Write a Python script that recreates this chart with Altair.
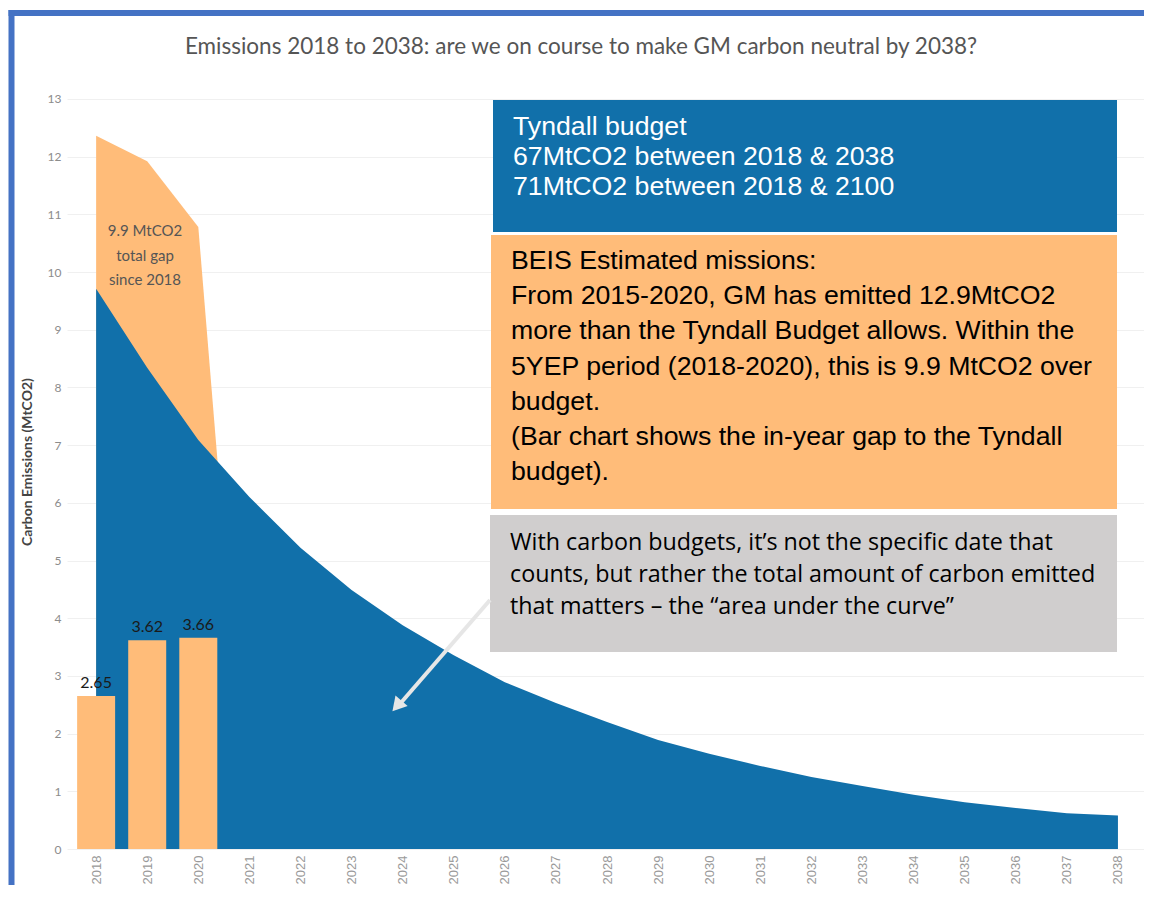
import altair as alt
import pandas as pd

# ---- data ----
years = list(range(2018, 2039))
tyndall = [9.71, 8.34, 7.09, 6.10, 5.22, 4.49, 3.88, 3.36, 2.89, 2.53, 2.20,
           1.89, 1.65, 1.44, 1.25, 1.09, 0.94, 0.81, 0.71, 0.62, 0.58]
beis_years = [2018, 2019, 2020, 2021]
beis = [12.36, 11.92, 10.78, 0.0]
gap_years = [2018, 2019, 2020]
gap = [2.65, 3.62, 3.66]
gap_labels = ["2.65", "3.62", "3.66"]

title_text = "Emissions 2018 to 2038: are we on course to make GM carbon neutral by 2038?"
y_title = "Carbon Emissions (MtCO2)"
gap_note = ["9.9 MtCO2", "total gap", "since 2018"]
blue_note = ["Tyndall budget", "67MtCO2 between 2018 & 2038", "71MtCO2 between 2018 & 2100"]
orange_note = ["BEIS Estimated missions:",
               "From 2015-2020, GM has emitted 12.9MtCO2",
               "more than the Tyndall Budget allows. Within the",
               "5YEP period (2018-2020), this is 9.9 MtCO2 over",
               "budget.",
               "(Bar chart shows the in-year gap to the Tyndall",
               "budget)."]
gray_note = ["With carbon budgets, it\u2019s not the specific date that",
             "counts, but rather the total amount of carbon emitted",
             "that matters \u2013 the \u201carea under the curve\u201d"]

BLUE = "#1170aa"
ORANGE = "#ffbc79"
GRAY_BOX = "#d0cece"
BORDER = "#4472c4"

W, H = 1077, 757

tyn_df = pd.DataFrame({"year": years, "value": tyndall})
beis_df = pd.DataFrame({"year": beis_years, "value": beis})
gap_df = pd.DataFrame({"year": gap_years, "value": gap, "label": gap_labels})
one = pd.DataFrame({"a": [0]})

xscale = alt.Scale(domain=[2017.43, 2038.51], nice=False, zero=False, padding=0)
yscale = alt.Scale(domain=[0, 13.12], nice=False, padding=0)

x_enc = alt.X("year:Q", scale=xscale, title=None,
              axis=alt.Axis(values=years, format="d", labelAngle=270,
                            labelFont="Liberation Sans", labelFontSize=13,
                            labelColor="#9a9a9a", labelPadding=6,
                            ticks=False, domain=False, grid=False))
y_enc = alt.Y("value:Q", scale=yscale, title=None,
              axis=alt.Axis(values=list(range(0, 14)), format="d", labelFont="Lato",
                            labelFontSize=12, labelColor="#8c8c8c",
                            labelPadding=6, ticks=False, domain=False,
                            grid=True, gridColor="#f0f0f0", gridWidth=1))

beis_area = alt.Chart(beis_df).mark_area(color=ORANGE, opacity=1).encode(x=x_enc, y=y_enc)
tyn_area = alt.Chart(tyn_df).mark_area(color=BLUE, opacity=1).encode(x="year:Q", y="value:Q")
bars = alt.Chart(gap_df).mark_bar(color=ORANGE, size=38).encode(x="year:Q", y="value:Q")
bar_text = alt.Chart(gap_df).mark_text(font="Lato", fontSize=16, color="#1a1a1a",
                                        baseline="bottom", dy=-5).encode(
    x="year:Q", y="value:Q", text="label:N")


def box(x1, x2, y1, y2, color):
    return alt.Chart(one).mark_rect(color=color).encode(
        x=alt.value(x1), x2=alt.value(x2), y=alt.value(y1), y2=alt.value(y2))


def note(lines, x, y, size, color, font, lh, align="left", weight="normal", angle=0):
    return alt.Chart(one).mark_text(text=lines, font=font, fontSize=size, color=color,
                                    align=align, baseline="middle", lineHeight=lh,
                                    fontWeight=weight, angle=angle).encode(
        x=alt.value(x), y=alt.value(y))


blue_box = box(426, 1050, 8, 140, BLUE)
orange_box = box(424, 1050, 143, 417, ORANGE)
gray_box = box(423, 1050, 423, 560, GRAY_BOX)

blue_txt = note(blue_note, 446, 35, 26.7, "white", "Liberation Sans", 30)
orange_txt = note(orange_note, 444, 169, 26.7, "black", "Liberation Sans", 35.2)
gray_txt = note(gray_note, 443, 451, 23.3, "black", "Open Sans", 32)
gap_txt = note(gap_note, 78, 139, 15, "#555555", "Lato", 24.5, align="center")
title = note([title_text], 514, -45, 22.5, "#555555", "Lato", 24, align="center")
ytitle = note([y_title], -39, 370, 14, "#444444", "Lato", 14, align="center",
              weight="bold", angle=270)

arrow_line = alt.Chart(one).mark_rule(color="#e6e6e6", strokeWidth=4).encode(
    x=alt.value(423), y=alt.value(508), x2=alt.value(332), y2=alt.value(613))
arrow_head = alt.Chart(one).mark_point(shape="triangle-up", filled=True, color="#e6e6e6",
                                       opacity=1, size=260, angle=221).encode(
    x=alt.value(330), y=alt.value(614))

border_left = alt.Chart(one).mark_rule(color=BORDER, strokeWidth=6).encode(
    x=alt.value(-55.5), y=alt.value(-82), y2=alt.value(900))
border_top = alt.Chart(one).mark_rule(color=BORDER, strokeWidth=6).encode(
    x=alt.value(-58.5), x2=alt.value(1200), y=alt.value(-79))

chart = alt.layer(
    beis_area, tyn_area, bars, bar_text,
    blue_box, orange_box, gray_box, blue_txt, orange_txt, gray_txt,
    gap_txt, arrow_line, arrow_head, title, ytitle, border_left, border_top
).properties(
    width=W, height=H,
    autosize=alt.AutoSizeParams(type="none"),
    padding={"left": 59, "top": 84, "right": 0, "bottom": 36},
    background="white"
).configure_view(stroke=None)

chart.save("out.html", embed_options={"renderer": "svg", "actions": False})
